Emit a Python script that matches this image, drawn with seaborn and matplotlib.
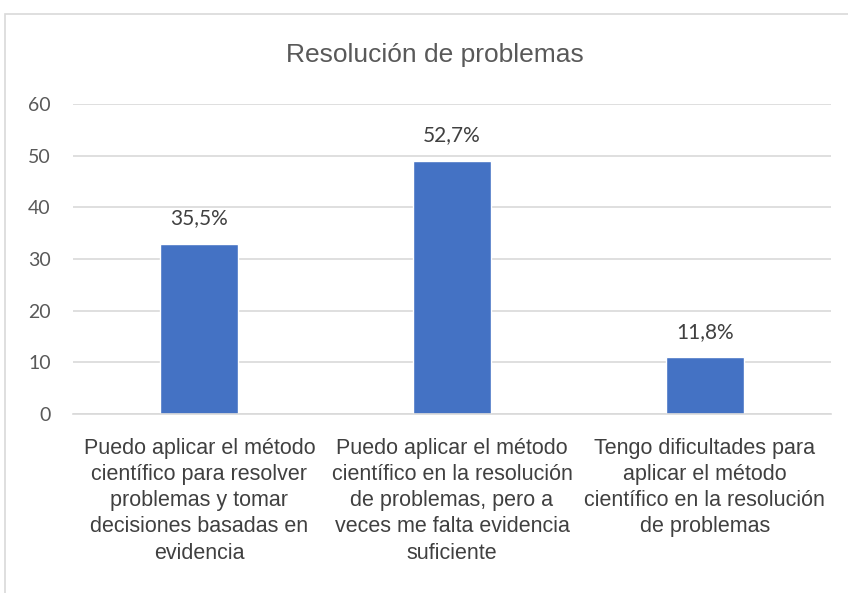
import matplotlib
matplotlib.use("Agg")
import matplotlib.pyplot as plt
from matplotlib.patches import Rectangle
import seaborn as sns
import pandas as pd

categories = [
    "Puedo aplicar el método\ncientífico para resolver\nproblemas y tomar\ndecisiones basadas en\nevidencia",
    "Puedo aplicar el método\ncientífico en la resolución\nde problemas, pero a\nveces me falta evidencia\nsuficiente",
    "Tengo dificultades para\naplicar el método\ncientífico en la resolución\nde problemas",
]
counts = [33, 49, 11]
percent_labels = ["35,5%", "52,7%", "11,8%"]
y_ticks = [0, 10, 20, 30, 40, 50, 60]

df = pd.DataFrame({"categoria": categories, "n": counts})

sns.set_style("white")
narrow = ["Liberation Sans Narrow", "Liberation Sans", "DejaVu Sans"]
plt.rcParams["font.family"] = ["Lato", "DejaVu Sans"]

fig = plt.figure(figsize=(8.48, 5.93), dpi=100)
ax = fig.add_axes([73 / 848, 1 - 414 / 593, (831 - 73) / 848, (414 - 104) / 593])

sns.barplot(data=df, x="categoria", y="n", color="#4472C4", width=0.31,
            saturation=1, ax=ax)

ax.set_ylim(0, 60)
ax.set_yticks(y_ticks)
ax.set_yticklabels([str(t) for t in y_ticks], fontsize=14, color="#595959")
ax.set_xticks(range(len(categories)))
ax.set_xticklabels(categories, fontsize=15.5, color="#404040",
                   family=narrow, linespacing=1.33)
ax.tick_params(axis="x", length=0, pad=17)
ax.tick_params(axis="y", length=0, pad=16)
ax.set_xlabel("")
ax.set_ylabel("")
ax.set_xlim(-0.5, 2.5)

ax.yaxis.grid(True, color="#d9d9d9", linewidth=1.2)
ax.set_axisbelow(True)
for s in ["top", "right", "left"]:
    ax.spines[s].set_visible(False)
ax.spines["bottom"].set_color("#d9d9d9")
ax.spines["bottom"].set_linewidth(1.2)

ax.bar_label(ax.containers[0], labels=percent_labels, padding=11,
             fontsize=15, color="#404040")

fig.text(435 / 848, 1 - 55 / 593, "Resolución de problemas", ha="center",
         va="center", fontsize=19, color="#595959", family=narrow)

# chart border
fig.patches.append(Rectangle((5 / 848, -0.2), 1.2, 1 - 14 / 593 + 0.2,
                             transform=fig.transFigure, fill=False,
                             edgecolor="#d9d9d9", linewidth=1.2))

fig.savefig("out.png", dpi=100)
